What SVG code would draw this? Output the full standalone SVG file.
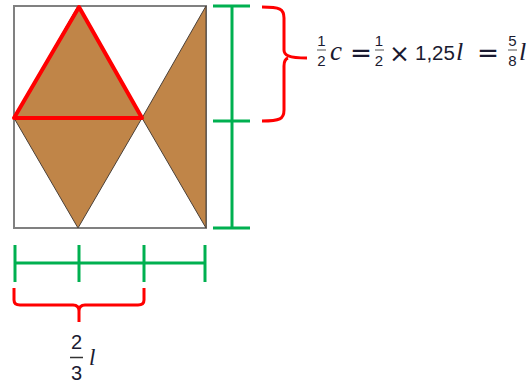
<svg xmlns="http://www.w3.org/2000/svg" width="531" height="385" viewBox="0 0 531 385">
<style>
.brown{fill:#C08548;stroke:#4a4038;stroke-width:1}
.green{stroke:#00B050;stroke-width:3;fill:none;stroke-linecap:butt}
.red{stroke:#FF0000;fill:none}
.num{font-family:"Liberation Sans",Arial,sans-serif;fill:#1a1a30}
.var{font-family:"Liberation Serif","DejaVu Serif",serif;font-style:italic;fill:#1a1a30}
.op{font-family:"DejaVu Sans",sans-serif;fill:#1a1a30}
.bar{stroke:#555;stroke-width:1}
</style>
<rect width="531" height="385" fill="#fff"/>
<g id="square">
<rect x="14" y="6" width="192" height="222" fill="#fff" stroke="#808080" stroke-width="2"/>
</g>
<g id="diamond">
<polygon class="brown" points="14,118 78,6 142,118 78,228"/>
</g>
<g id="bowtie">
<polygon class="brown" points="142,118 206,6 206,228"/>
</g>
<g id="red-triangle">
<polygon class="red" points="14,118 79,7 142,118" stroke-width="4" stroke-linejoin="round"/>
</g>
<g id="connectors">
<g id="height-dimension">
<line class="green" x1="232" y1="6" x2="232" y2="228"/>
<line class="green" x1="213" y1="6" x2="250" y2="6"/>
<line class="green" x1="213" y1="121" x2="250" y2="121"/>
<line class="green" x1="213" y1="228" x2="250" y2="228"/>
</g>
<g id="width-dimension">
<line class="green" x1="15" y1="263" x2="205" y2="263"/>
<line class="green" x1="15" y1="245" x2="15" y2="282"/>
<line class="green" x1="79" y1="245" x2="79" y2="282"/>
<line class="green" x1="144" y1="245" x2="144" y2="282"/>
<line class="green" x1="205" y1="245" x2="205" y2="282"/>
</g>
<g id="right-brace">
<path class="red" stroke-width="3" d="M262,7 C280,7 284,9 284,18 L284,50 C284,55 288,58 307,58 M288,58 C285,59 284,62 284,66 L284,110 C284,119 280,121 262,121"/>
</g>
<g id="bottom-brace">
<path class="red" stroke-width="3" d="M14,288 L14,300 Q14,305 20,305 L73,305 Q79,305 79,311 L79,322 M79,311 Q79,305 85,305 L138,305 Q144,305 144,300 L144,288"/>
</g>
</g>
<g id="formula">
<text class="num" x="321.5" y="45.5" font-size="15" text-anchor="middle">1</text>
<line class="bar" x1="317" y1="50" x2="326" y2="50"/>
<text class="num" x="321.5" y="65.5" font-size="15" text-anchor="middle">2</text>
<text class="var" x="330" y="60" font-size="27">c</text>
<text class="op" x="350" y="62" font-size="26" textLength="22" lengthAdjust="spacingAndGlyphs">=</text>
<text class="num" x="379" y="45.5" font-size="15" text-anchor="middle">1</text>
<line class="bar" x1="375" y1="50" x2="384" y2="50"/>
<text class="num" x="379" y="65.5" font-size="15" text-anchor="middle">2</text>
<text class="op" x="389" y="62" font-size="24" textLength="21" lengthAdjust="spacingAndGlyphs">×</text>
<text class="num" x="415" y="60" font-size="20.5">1,25</text>
<text class="var" x="456" y="60" font-size="26">l</text>
<text class="op" x="477" y="62" font-size="26" textLength="22" lengthAdjust="spacingAndGlyphs">=</text>
<text class="num" x="512.5" y="45.5" font-size="15" text-anchor="middle">5</text>
<line class="bar" x1="508" y1="50" x2="517" y2="50"/>
<text class="num" x="512.5" y="65.5" font-size="15" text-anchor="middle">8</text>
<text class="var" x="519" y="60" font-size="26">l</text>
</g>
<g id="two-thirds">
<text class="num" x="76.5" y="348.5" font-size="20" text-anchor="middle">2</text>
<line x1="70" y1="357.5" x2="83" y2="357.5" stroke="#333" stroke-width="1.5"/>
<text class="num" x="76.5" y="380" font-size="20" text-anchor="middle">3</text>
<text class="var" x="89" y="365" font-size="23">l</text>
</g>
</svg>
